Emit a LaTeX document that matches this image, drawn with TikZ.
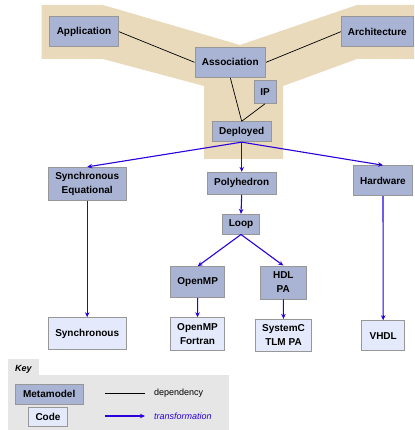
\documentclass[tikz,border=0pt]{standalone}
\usepackage{fontspec}
\setmainfont{Liberation Sans}
\usetikzlibrary{arrows.meta}
\definecolor{tan}{HTML}{E8DABB}
\definecolor{meta}{HTML}{A9B4D4}
\definecolor{codef}{HTML}{E4EAFB}
\definecolor{bord}{HTML}{979797}
\definecolor{trans}{HTML}{2A00DC}
\definecolor{keybg}{HTML}{E6E6E6}
\tikzset{
  box/.style={draw=bord, line width=0.9pt, inner sep=1pt, align=center,
    font=\fontsize{10}{14}\selectfont\bfseries},
  mm/.style={box, fill=meta},
  cd/.style={box, fill=codef},
  dep/.style={draw=black, line width=0.7pt},
  tr/.style={draw=trans, line width=1.1pt, -{Stealth[length=5pt,width=4.5pt]}},
}
\begin{document}
\begin{tikzpicture}[x=1pt,y=-1pt]
\useasboundingbox (0,0) rectangle (414,430);
% tan background
\fill[tan] (41.7,5) -- (103,5) -- (240,45) -- (357,5) -- (414,5) -- (414,59) -- (357,59)
  -- (283,86) -- (283,159) -- (204,159) -- (204,86) -- (103,59) -- (41.7,59) -- cycle;
% metamodel nodes
\node[mm, minimum width=69pt, minimum height=30pt] (app) at (84,31.7) {Application};
\node[mm, minimum width=72pt, minimum height=30pt] (arch) at (377.3,31.7) {Architecture};
\node[mm, minimum width=70.7pt, minimum height=30pt] (assoc) at (230.3,62.3) {Association};
\node[mm, minimum width=22pt, minimum height=22.7pt] (ip) at (265,92) {IP};
\node[mm, minimum width=58.7pt, minimum height=20pt] (dep) at (241.7,131.7) {Deployed};
\node[mm, minimum width=77.7pt, minimum height=32.7pt] (se) at (87.2,183.7) {Synchronous\\Equational};
\node[mm, minimum width=68.7pt, minimum height=22pt] (poly) at (241.7,183.3) {Polyhedron};
\node[mm, minimum width=59.3pt, minimum height=30pt] (hw) at (383,180.7) {Hardware};
\node[mm, minimum width=36.7pt, minimum height=19.7pt] (loop) at (241,224.2) {Loop};
\node[mm, minimum width=54pt, minimum height=30.7pt] (omp) at (197.7,282) {OpenMP};
\node[mm, minimum width=46.7pt, minimum height=33pt] (hdl) at (283.3,282.5) {HDL\\PA};
% code nodes
\node[cd, minimum width=77.7pt, minimum height=31.7pt] (sync) at (87.2,333.5) {Synchronous};
\node[cd, minimum width=53.7pt, minimum height=33pt] (ompf) at (197.5,334.2) {OpenMP\\Fortran};
\node[cd, minimum width=55.7pt, minimum height=32pt] (sysc) at (283.5,335.3) {SystemC\\TLM PA};
\node[cd, minimum width=43pt, minimum height=30pt] (vhdl) at (383.2,335.7) {VHDL};
% dependencies
\draw[dep] (app.east) -- (assoc.west);
\draw[dep] (arch.west) -- (assoc.east);
\draw[dep] (assoc.south) ++(0,0) coordinate (as) (as) -- (dep.north);
\draw[dep] (ip.south) -- (dep.north);
% transformations
\draw[tr] (dep.south) -- (se.north);
\draw[tr] (dep.south) -- (poly.north);
\draw[tr] (dep.south) -- (hw.north);
\draw[tr] (poly.south) -- (loop.north);
\draw[tr] (loop.south) -- (omp.north);
\draw[tr] (loop.south) -- (hdl.north);
\draw[tr] (se.south) -- (sync.north);
\draw[tr] (hw.south) -- (vhdl.north);
\draw[tr] (omp.south) -- (ompf.north);
\draw[tr] (hdl.south) -- (sysc.north);
% key
\fill[keybg] (8.3,375) rectangle (228.7,430);
\fill[keybg] (8.3,359) rectangle (39,375);
\node[font=\fontsize{9}{10}\selectfont\bfseries\itshape] (keyt) at (23.3,369) {Key};
\node[mm, minimum width=68.3pt, minimum height=19.7pt] (km) at (49.2,394.2) {Metamodel};
\node[cd, minimum width=39.3pt, minimum height=19.3pt] (kc) at (48,417) {Code};
\coordinate (d1) at (105,393.3);
\coordinate (d2) at (145,393.3);
\draw[dep] (d1) -- (d2);
\node[anchor=west, inner sep=0pt, font=\fontsize{9}{10}\selectfont] (dl) at (154,393.3) {dependency};
\coordinate (t1) at (105,416);
\coordinate (t2) at (145,416);
\draw[tr] (t1) -- (t2);
\node[anchor=west, inner sep=0pt, text=trans, font=\fontsize{9}{10}\selectfont\itshape] (tl) at (154,416) {transformation};
\end{tikzpicture}
\end{document}
